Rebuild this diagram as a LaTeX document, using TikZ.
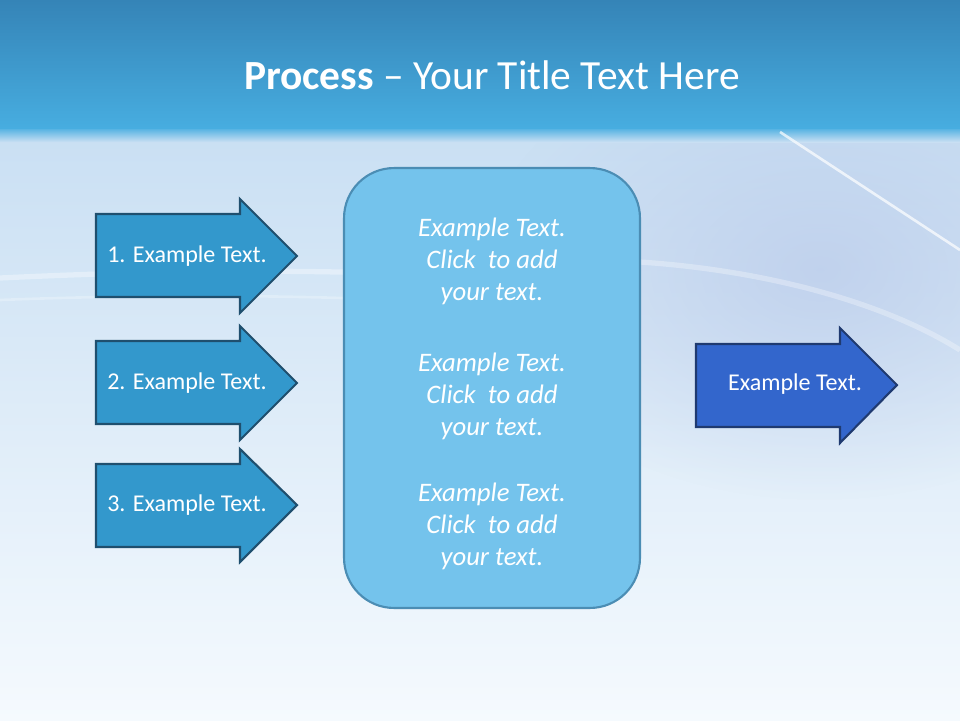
\documentclass[tikz,border=0pt]{standalone}
\usepackage{fontspec}
\setmainfont{Carlito}
\usepackage{tikz}
\usetikzlibrary{fadings}

\definecolor{headtop}{HTML}{3584B7}
\definecolor{headbot}{HTML}{47ADE0}
\definecolor{skytop}{HTML}{C9DFF3}
\definecolor{skymid}{HTML}{E3EFF9}
\definecolor{skybot}{HTML}{F5FAFE}
\definecolor{lavender}{HTML}{BCCDEB}
\definecolor{stepfill}{HTML}{3398CC}
\definecolor{stepline}{HTML}{1F4F6E}
\definecolor{boxfill}{HTML}{74C3EC}
\definecolor{boxline}{HTML}{4B8DB4}
\definecolor{outfill}{HTML}{3366CC}
\definecolor{outline}{HTML}{1F3A70}

\tikzfading[name=softglow,inner color=transparent!20,outer color=transparent!100]

\begin{document}
\begin{tikzpicture}[x=0.02cm,y=-0.02cm,
	steparrow/.style={fill=stepfill,draw=stepline,line width=1.2pt,line join=miter},
	outarrow/.style={fill=outfill,draw=outline,line width=1.2pt,line join=miter},
	steplabel/.style={text=white,font=\fontsize{13.7}{16}\selectfont},
	boxlabel/.style={text=white,align=center,font=\fontsize{15.2}{18.2}\selectfont\itshape}]

	% background
	\useasboundingbox (0,0) rectangle (960,720);
	\shade[top color=skytop,middle color=skymid,bottom color=skybot] (0,128) rectangle (960,720);
	\fill[lavender,path fading=softglow] (820,270) ellipse [x radius=340,y radius=230];
	\shade[top color=headbot,bottom color=skytop] (0,127) rectangle (960,142);
	\shade[top color=headtop,bottom color=headbot] (0,0) rectangle (960,128);
	\draw[white,opacity=0.35,line width=3pt] (0,278) .. controls (250,266) and (450,270) .. (600,290);
	\draw[white,opacity=0.25,line width=1.5pt] (0,300) .. controls (200,292) and (420,296) .. (560,312);
	\draw[white,opacity=0.7,line width=1.5pt] (780,132) -- (960,250);
	\draw[white,opacity=0.3,line width=3pt] (640,262) .. controls (760,270) and (880,300) .. (960,350);

	% title
	\node[text=white,font=\fontsize{23.6}{28}\selectfont] (title) at (492,75) {\textbf{Process} – Your Title Text Here};

	% input steps
	\draw[steparrow] (96,214) -- (240,214) -- (240,199) -- (297,256) -- (240,313) -- (240,297) -- (96,297) -- cycle;
	\draw[steparrow] (96,341) -- (240,341) -- (240,326) -- (297,383) -- (240,440) -- (240,424) -- (96,424) -- cycle;
	\draw[steparrow] (96,464) -- (240,464) -- (240,449) -- (297,505) -- (240,562) -- (240,547) -- (96,547) -- cycle;
	\node[steplabel] (s1) at (187,256) {1. Example Text.};
	\node[steplabel] (s2) at (187,383) {2. Example Text.};
	\node[steplabel] (s3) at (187,505) {3. Example Text.};

	% centre box
	\node[fill=boxfill,draw=boxline,line width=1.2pt,rounded corners=1cm,
		minimum width=5.92cm,minimum height=8.8cm] (box) at (492,388) {};
	\node[boxlabel] (b1) at (492,261) {Example Text.\\Click\ \ to add\\your text.};
	\node[boxlabel] (b2) at (492,396) {Example Text.\\Click\ \ to add\\your text.};
	\node[boxlabel] (b3) at (492,526) {Example Text.\\Click\ \ to add\\your text.};

	% output
	\draw[outarrow] (696,344) -- (840,344) -- (840,328) -- (897,385) -- (840,443) -- (840,427) -- (696,427) -- cycle;
	\node[steplabel] (out) at (795,384) {Example Text.};
\end{tikzpicture}
\end{document}
